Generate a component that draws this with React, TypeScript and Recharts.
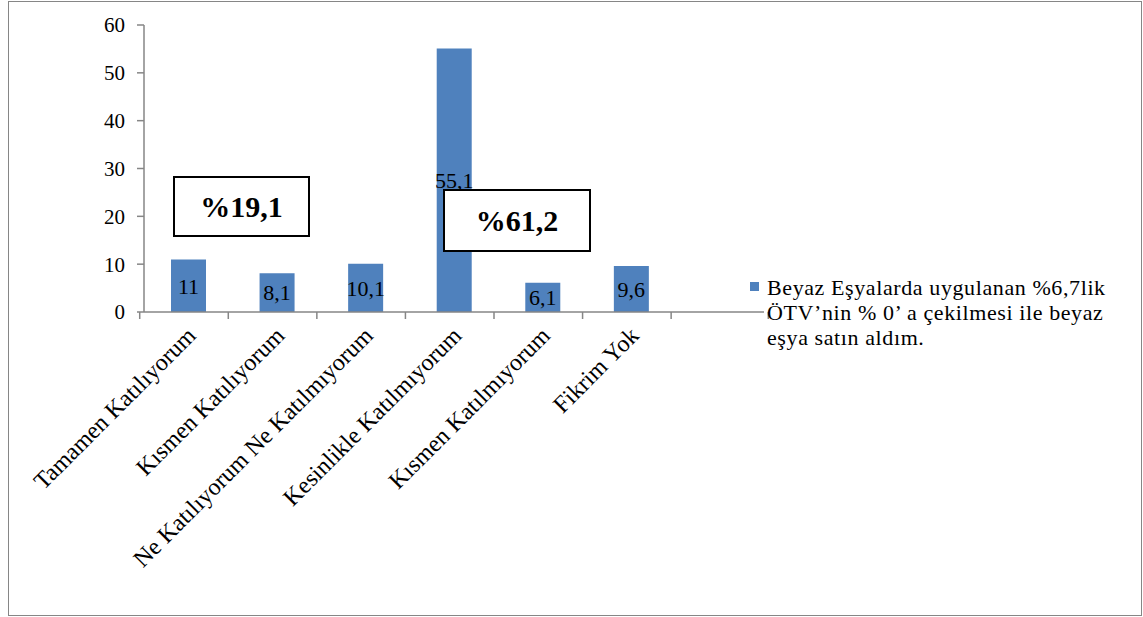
import { Bar, BarChart, LabelList, Legend, XAxis, YAxis } from "recharts";

const CATEGORIES = [
  "Tamamen Katılıyorum",
  "Kısmen Katılıyorum",
  "Ne Katılıyorum Ne Katılmıyorum",
  "Kesinlikle Katılmıyorum",
  "Kısmen Katılmıyorum",
  "Fikrim Yok",
  "",
];
const VALUES: (number | null)[] = [11, 8.1, 10.1, 55.1, 6.1, 9.6, null];
const Y_TICKS = [0, 10, 20, 30, 40, 50, 60];
const SERIES_NAME =
  "Beyaz Eşyalarda uygulanan %6,7lik ÖTV’nin % 0’ a çekilmesi ile beyaz eşya satın aldım.";
const GROUP_TOTALS = ["%19,1", "%61,2"];

const data = CATEGORIES.map((name, i) => ({ name, value: VALUES[i] }));

const W = 1143;
const H = 617;
const MARGIN = { top: 25, right: 379, bottom: 25, left: 84 };
const PLOT_W = W - MARGIN.left - MARGIN.right;
const BAND = PLOT_W / CATEGORIES.length;

const BAR = "#4F81BD";
const AXIS = "#868686";
const FONT = '"Liberation Serif", "Times New Roman", serif';

// category labels sit at the slot centre, tick marks at the slot edges
function CategoryTick(props: any) {
  const { x, y, payload, index } = props;
  const half = BAND / 2;
  const ax = x + 9;
  const ay = y + 25;
  return (
    <g>
      <line x1={x - half} y1={y} x2={x - half} y2={y + 7} stroke={AXIS} strokeWidth={1.5} />
      {index === CATEGORIES.length - 1 && (
        <line x1={x + half} y1={y} x2={x + half} y2={y + 7} stroke={AXIS} strokeWidth={1.5} />
      )}
      <text
        x={ax}
        y={ay}
        textAnchor="end"
        transform={`rotate(-45, ${ax}, ${ay})`}
        fontFamily={FONT}
        fontSize={24}
        fill="#000"
      >
        {payload.value}
      </text>
    </g>
  );
}

function SeriesLegend() {
  return (
    <div style={{ display: "flex", alignItems: "flex-start", fontFamily: FONT }}>
      <span
        style={{
          width: 9,
          height: 9,
          background: BAR,
          marginTop: 7,
          marginRight: 8,
          flex: "none",
        }}
      />
      <span
        style={{
          fontSize: 22,
          lineHeight: "25px",
          letterSpacing: 0.6,
          color: "#000",
          width: 365,
        }}
      >
        {SERIES_NAME}
      </span>
    </div>
  );
}

const boxStyle = {
  position: "absolute" as const,
  boxSizing: "border-box" as const,
  border: "2px solid #000",
  background: "#fff",
  display: "flex",
  alignItems: "center",
  justifyContent: "center",
  fontFamily: FONT,
  fontWeight: 700,
  fontSize: 30,
  color: "#000",
};

export default function App() {
  return (
    <div style={{ position: "relative", width: W, height: H, background: "#fff" }}>
      <style>{"body{margin:0}"}</style>
      <div
        style={{
          position: "absolute",
          left: 8,
          top: 1,
          width: 1134,
          height: 615,
          boxSizing: "border-box",
          border: `1.5px solid ${AXIS}`,
        }}
      />
      <BarChart width={W} height={H} data={data} margin={MARGIN}>
        <XAxis
          dataKey="name"
          interval={0}
          height={280}
          tickSize={0}
          tickMargin={0}
          tickLine={false}
          axisLine={{ stroke: AXIS, strokeWidth: 1.5 }}
          tick={<CategoryTick />}
        />
        <YAxis
          domain={[0, 60]}
          ticks={Y_TICKS}
          width={60}
          tickSize={7}
          tickMargin={12}
          axisLine={{ stroke: AXIS, strokeWidth: 1.5 }}
          tickLine={{ stroke: AXIS, strokeWidth: 1.5 }}
          tick={{ fill: "#000", fontFamily: FONT, fontSize: 21 }}
        />
        <Legend
          layout="vertical"
          align="center"
          verticalAlign="middle"
          wrapperStyle={{ left: 750, top: 275, width: 390 }}
          content={<SeriesLegend />}
        />
        <Bar dataKey="value" name={SERIES_NAME} fill={BAR} barSize={35} isAnimationActive={false}>
          <LabelList
            dataKey="value"
            position="center"
            fill="#000"
            fontFamily={FONT}
            fontSize={22}
            formatter={(v: any) => (typeof v === "number" ? String(v).replace(".", ",") : "")}
          />
        </Bar>
      </BarChart>
      <div style={{ ...boxStyle, left: 173, top: 176, width: 137, height: 61 }}>
        {GROUP_TOTALS[0]}
      </div>
      <div style={{ ...boxStyle, left: 443, top: 189, width: 148, height: 63 }}>
        {GROUP_TOTALS[1]}
      </div>
    </div>
  );
}
